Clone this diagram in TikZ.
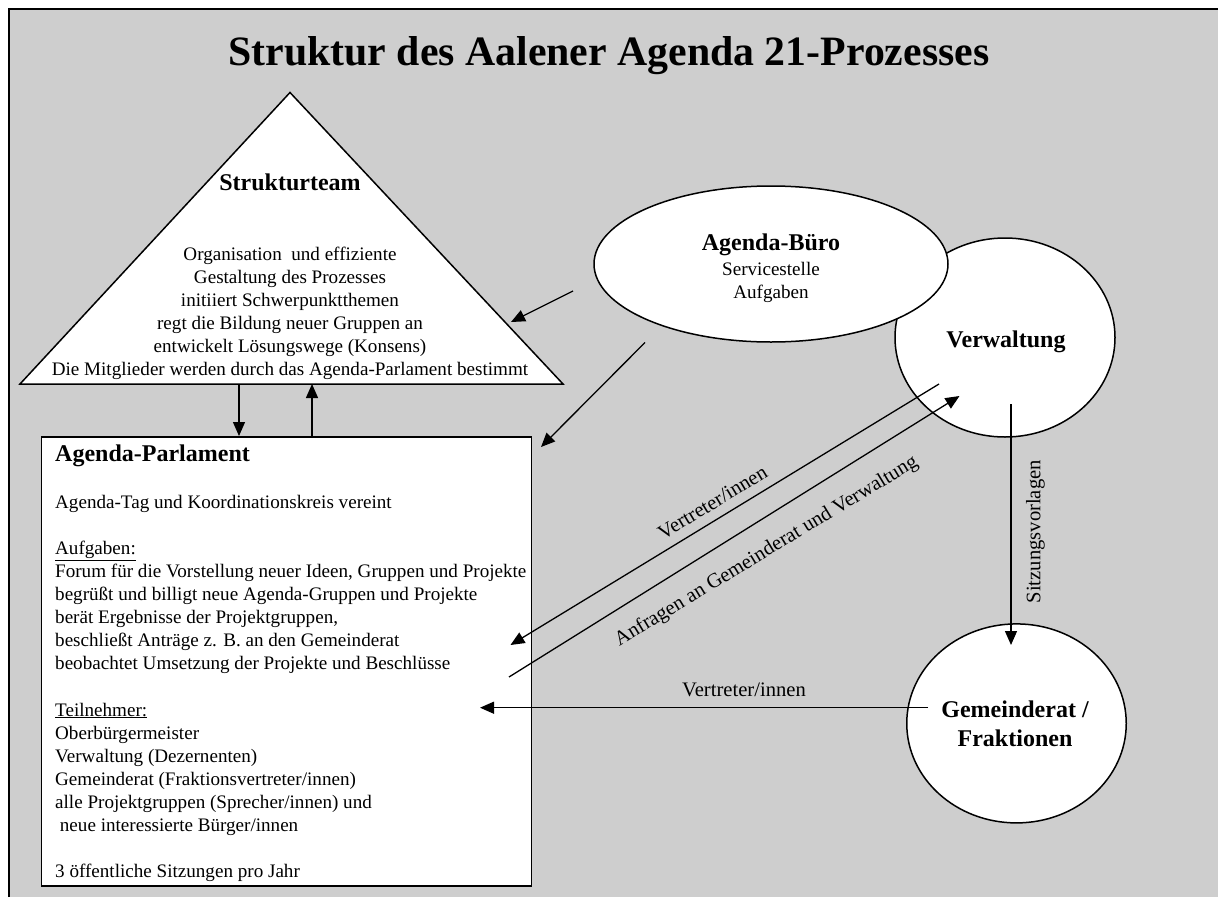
\documentclass[tikz,border=0pt]{standalone}
\usepackage{fontspec}
\setmainfont{Liberation Serif}
\usetikzlibrary{arrows.meta,shapes.geometric}
\definecolor{bggray}{RGB}{206,206,206}
\begin{document}
\begin{tikzpicture}[x=1pt,y=-1pt,
  conn/.style={line width=1.3pt,-{Triangle[length=14pt,width=12pt]}},
  shapeline/.style={draw=black,line width=1.5pt,fill=white},
  body/.style={font=\fontsize{19.1}{23.1}\selectfont,inner sep=0pt},
  head/.style={font=\fontsize{24}{29.4}\selectfont\bfseries,inner sep=0pt},
  lbl/.style={font=\fontsize{20.6}{24}\selectfont,inner sep=0pt}]

\useasboundingbox (0,0) rectangle (1218,897);
\fill[bggray] (9,9) rectangle (1218,897);
\draw[line width=2.5pt] (9,897) -- (9,9) -- (1218,9);

% title
\node[font=\fontsize{41.8}{48}\selectfont\bfseries,anchor=base,inner sep=0pt] (title) at (609,65) {Struktur des Aalener Agenda 21-Prozesses};

% Strukturteam triangle
\coordinate (tA) at (290,92.5);
\coordinate (tL) at (20,384);
\coordinate (tR) at (563,384);
\draw[shapeline] (tA) -- (tL) -- (tR) -- cycle;
\node[head,anchor=base] (stteam) at (290,190.7) {Strukturteam};
\node[body,align=center,anchor=north] (sttext) at (290,242) {\rule{0pt}{18pt}Organisation\ \ und effiziente\\
Gestaltung des Prozesses\\
initiiert Schwerpunktthemen\\
regt die Bildung neuer Gruppen an\\
entwickelt Lösungswege (Konsens)\\
Die Mitglieder werden durch das Agenda-Parlament bestimmt};

% Verwaltung
\node[shapeline,ellipse,minimum width=220pt,minimum height=199pt,inner sep=0pt] (verw) at (1005,337.5) {};
\node[head,anchor=base] (verwlbl) at (1006,347.3) {Verwaltung};

% Agenda-Buero
\node[shapeline,ellipse,minimum width=354pt,minimum height=156pt,inner sep=0pt] (buero) at (771,264) {};
\node[head,anchor=base] (buerolbl) at (771,250) {Agenda-Büro};
\node[body,align=center,anchor=north] (buerotext) at (771,257) {\rule{0pt}{18pt}Servicestelle\\Aufgaben};

% Gemeinderat
\node[shapeline,ellipse,minimum width=219.5pt,minimum height=199pt,inner sep=0pt] (gemr) at (1016.5,723.4) {};
\node[head,align=center,anchor=north] (gemrlbl) at (1015,693.3) {\rule{0pt}{24pt}Gemeinderat /\\Fraktionen};

% Agenda-Parlament box
\node[shapeline,rectangle,minimum width=490pt,minimum height=449pt,inner sep=0pt,anchor=north west] (parl) at (40.5,436) {};
\node[body,align=left,anchor=north west] (parltext) at (55,441.7) {\rule{0pt}{20pt}{\fontsize{24}{23.1}\selectfont\bfseries Agenda-Parlament}\\[23.1pt]
Agenda-Tag und Koordinationskreis vereint\\[23.1pt]
\underline{Aufgaben:}\\
Forum für die Vorstellung neuer Ideen, Gruppen und Projekte\\
begrüßt und billigt neue Agenda-Gruppen und Projekte\\
berät Ergebnisse der Projektgruppen,\\
beschließt Anträge z. B. an den Gemeinderat\\
beobachtet Umsetzung der Projekte und Beschlüsse\\[23.1pt]
\underline{Teilnehmer:}\\
Oberbürgermeister\\
Verwaltung (Dezernenten)\\
Gemeinderat (Fraktionsvertreter/innen)\\
alle Projektgruppen (Sprecher/innen) und\\
\hspace*{4.75pt}neue interessierte Bürger/innen\\[23.1pt]
3 öffentliche Sitzungen pro Jahr};

% connector end points
\coordinate (b1s) at (573,291);
\coordinate (b1e) at (511,322);
\coordinate (b2s) at (645,342.5);
\coordinate (b2e) at (541,447);
\coordinate (sdown) at (239,384);
\coordinate (sup) at (312,384);
\coordinate (v1s) at (939,384);
\coordinate (v1e) at (510.5,645);
\coordinate (a1s) at (509,677);
\coordinate (a1e) at (959.5,396);
\coordinate (s1s) at (1011,404);
\coordinate (s1e) at (1011,645);
\coordinate (g1s) at (928,707.7);
\coordinate (g1e) at (480,707.7);

\draw[conn] (b1s) -- (b1e);
\draw[conn] (b2s) -- (b2e);
\draw[conn] (sdown) -- (sdown |- parl.north);
\draw[conn] (sup |- parl.north) -- (sup);
\draw[conn] (v1s) -- (v1e);
\draw[conn] (a1s) -- (a1e);
\draw[conn] (s1s) -- (s1e);
\draw[conn] (g1s) -- (g1e);

% labels
\node[lbl,rotate=31.2] (lv1) at (712.5,502.5) {Vertreter/innen};
\node[lbl,rotate=31.2] (la1) at (766.5,551.5) {Anfragen an Gemeinderat und Verwaltung};
\node[lbl,rotate=90] (ls1) at (1035.5,531.7) {Sitzungsvorlagen};
\node[lbl,anchor=base] (lg1) at (744,696.7) {Vertreter/innen};
\end{tikzpicture}
\end{document}
